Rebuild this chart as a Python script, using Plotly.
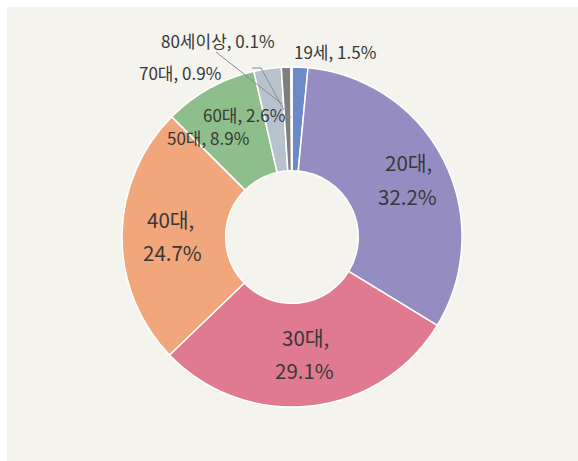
import plotly.graph_objects as go

# Age groups and their shares (%)
groups = ["19세", "20대", "30대", "40대", "50대", "60대", "70대", "80세이상"]
shares = [1.5, 32.2, 29.1, 24.7, 8.9, 2.6, 0.9, 0.1]
colors = ["#6b8ac7", "#958dc2", "#e07a91", "#f2a67c", "#8dbe8b", "#b7c2cd", "#7d7e80", "#d3d6da"]

W, H = 578, 461
CX, CY, R = 292, 237, 170  # donut centre / outer radius in pixels

fig = go.Figure(go.Pie(
    labels=groups,
    values=shares,
    sort=False,
    direction="clockwise",
    rotation=0,
    hole=0.39,
    marker=dict(colors=colors, line=dict(color="white", width=1.5)),
    textinfo="none",
    hoverinfo="label+percent",
    showlegend=False,
    domain=dict(x=[(CX - R) / W, (CX + R) / W],
                y=[(H - CY - R) / H, (H - CY + R) / H]),
))

def px(x, y):
    return x / W, 1 - y / H

font = "Noto Sans CJK KR, Noto Sans, sans-serif"
ink = "#383838"

def fmt(v):
    return f"{v:.1f}%"

# label positions (pixel coordinates of text centres)
big = {"20대": [(408, 162), (407, 196)],
       "30대": [(305, 337), (304, 370)],
       "40대": [(170, 219), (172, 252)]}
small = {"19세": (335, 51), "50대": (208, 137), "60대": (244, 114),
         "70대": (180, 72), "80세이상": (218, 40)}

def label(x, y, text, size):
    xr, yr = px(x, y)
    return dict(x=xr, y=yr, xref="paper", yref="paper", text=text,
                xanchor="center", yanchor="middle", showarrow=False,
                font=dict(family=font, size=size, color=ink))

annotations = []
for g, v in zip(groups, shares):
    if g in big:
        (x1, y1), (x2, y2) = big[g]
        annotations.append(label(x1, y1, g + ",", 20.5))
        annotations.append(label(x2, y2, fmt(v), 20.5))
    else:
        x, y = small[g]
        annotations.append(label(x, y, f"{g}, {fmt(v)}", 17))

# leader lines for the narrow top slices
leaders = [
    [(216, 52), (282, 104)],
    [(252, 68), (261, 68), (284, 110)],
    [(284, 117), (291, 117)],
]
shapes = [dict(type="rect", xref="paper", yref="paper",
               x0=7 / W, x1=1, y0=0, y1=1 - 7 / H,
               fillcolor="#f4f3ed", line=dict(width=0), layer="below")]
for pts in leaders:
    path = "M " + " L ".join(f"{x / W},{1 - y / H}" for x, y in pts)
    shapes.append(dict(type="path", xref="paper", yref="paper", path=path,
                       line=dict(color="#8c8c8c", width=1)))

fig.update_layout(
    width=W, height=H,
    margin=dict(l=0, r=0, t=0, b=0),
    paper_bgcolor="white",
    plot_bgcolor="white",
    annotations=annotations,
    shapes=shapes,
)

fig.write_html("out.html")
